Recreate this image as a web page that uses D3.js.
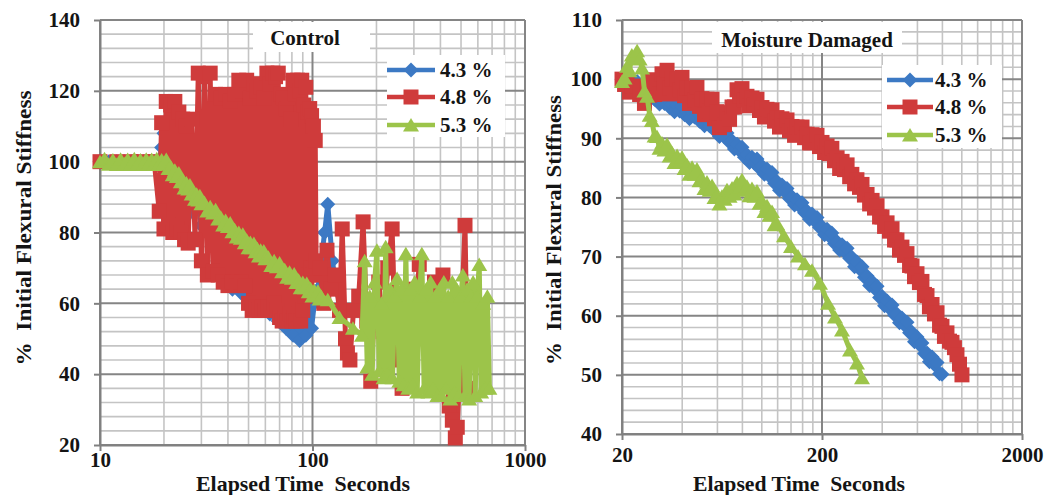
<!DOCTYPE html>
<html>
<head>
<meta charset="utf-8">
<script src="https://cdn.jsdelivr.net/npm/d3@7"></script>
<style>
  body { margin: 0; background: #ffffff; }
  svg text { font-family: "Liberation Serif", "Times New Roman", serif; font-weight: bold; fill: #141414; }
</style>
</head>
<body>
<div id="chart"></div>
<script>
// Series names (legend)
var seriesNames = ["4.3 %", "4.8 %", "5.3 %"];

// Tick labels
var ctlXTicks = [10, 100, 1000];
var ctlYTicks = [20, 40, 60, 80, 100, 120, 140];
var mdXTicks = [20, 200, 2000];
var mdYTicks = [40, 50, 60, 70, 80, 90, 100, 110];

// ---- Control panel (elapsed time s, % initial flexural stiffness) ----
var ctlBlueTime = [10, 11, 12, 13, 14, 15, 16, 17, 18, 19, 19.5, 20, 21, 22, 23, 24, 25, 26, 27, 28,
  30, 32, 34, 36, 38, 40, 42, 44, 46, 48, 50, 52, 54, 56, 58, 60,
  63, 66, 69, 72, 75, 78, 81, 84, 87, 90, 93, 96, 99,
  102, 106, 110, 114, 118, 124, 130, 136];
var ctlBlueStiff = [100, 100, 100, 100, 100, 100, 100, 100, 100, 100, 104, 108, 96, 104, 92, 100, 88, 97, 86, 94,
  82, 90, 78, 86, 74, 80, 64, 78, 63, 74, 62, 72, 62, 70, 60, 68,
  57, 66, 55, 64, 53, 62, 51, 58, 49.5, 56, 51, 58, 53,
  60, 64, 72, 80, 88, 72, 64, 58];

var ctlRedTime = [10, 12, 14, 16, 18,
  19, 19.5, 20, 20.5, 21, 21.5, 22, 22.5, 23, 23.5, 24, 24.5, 25, 25.5, 26,
  27, 28, 29, 30, 31, 32, 33, 34, 35, 36, 37, 38, 39, 40, 41, 42, 43, 44, 45, 46, 47, 48, 49, 50,
  51, 52, 53, 54, 55, 56, 57, 58, 59, 60, 61, 62, 63, 64, 65, 66, 67, 68, 69, 70,
  71, 72, 73, 74, 75, 76, 77, 78, 79, 80, 81, 82, 83, 84, 85, 86, 87, 88, 89, 90,
  91, 92, 93, 94, 95, 96, 97, 98, 99, 100, 101, 102, 103, 104,
  108, 113, 117, 122, 128, 134, 138, 143, 146, 150, 156, 165, 173, 180, 188, 196, 205, 215, 226, 237,
  245, 255, 264, 275, 290, 305, 318, 330, 345, 360, 375, 390, 411, 425, 440, 455, 470, 480, 492, 505,
  522, 530, 540];
var ctlRedStiff = [100, 100, 100, 100, 100,
  86, 111, 81, 117, 82, 116, 80, 117, 81, 114, 80, 112, 78, 110, 77,
  112, 78, 125, 72, 124, 68, 125, 69, 119, 68, 118, 66, 119, 65, 117, 66, 119, 65, 123, 66, 120, 65, 123, 60,
  118, 58, 122, 59, 120, 58, 121, 59, 118, 58, 125, 59, 122, 58, 125, 60, 124, 58, 125, 56,
  119, 55, 118, 56, 115, 55, 118, 57, 112, 55, 123, 56, 119, 55, 123, 57, 120, 55, 123, 58,
  116, 62, 121, 66, 114, 68, 115, 70, 113, 68, 110, 70, 106, 72,
  70, 60, 75, 64, 68, 58, 81, 50, 46, 44, 58, 62, 83, 55, 38, 60, 66, 52, 70, 81,
  50, 44, 36, 56, 64, 58, 71, 52, 62, 48, 66, 55, 68, 44, 31, 27, 22, 25, 40, 60,
  82, 58, 36];

var ctlGreenTime = [10, 10.5, 11, 11.5, 12, 12.5, 13, 13.5, 14, 14.5, 15, 15.5, 16, 16.5, 17, 17.5, 18, 18.5, 19, 19.5, 20,
  20.5, 21, 21.5, 22, 22.5, 23, 23.5, 24, 24.5, 25, 25.5, 26, 26.5, 27, 27.5, 28, 28.5, 29, 29.5, 30,
  31, 32, 33, 34, 35, 36, 37, 38, 39, 40, 41, 42, 43, 44, 45, 46, 47, 48, 49, 50,
  51, 52, 53, 54, 55, 56, 57, 58, 59, 60,
  62, 64, 66, 68, 70, 72, 74, 76, 78, 80, 82, 84, 86, 88, 90, 92, 94, 96, 98, 100, 102, 104, 106, 108, 110,
  118, 134, 155,
  171, 176, 181, 186, 191, 196, 201, 206, 211, 216, 221, 226, 232, 238, 244, 250, 256, 262, 268, 275,
  282, 289, 296, 303, 311, 319, 327, 335, 343, 351, 360, 369, 378, 387, 396, 405, 415, 425, 435, 445,
  455, 466, 477, 488, 499, 510, 522, 534, 546, 558, 570, 583, 596, 609, 622, 636, 650, 665, 680];
var ctlGreenStiff = [100, 100.8, 99.3, 100.5, 99.2, 100.7, 99.4, 100.6, 99.2, 100.8, 99.3, 100.5, 99.2, 100.7, 99.4, 100.6, 99.2, 100.8, 99.3, 100.5, 99.6,
  100.6, 98.1, 98.6, 96.3, 97.6, 95.8, 96.8, 94.3, 94.8, 92.6, 94.0, 92.3, 93.4, 90.9, 91.5, 89.4, 90.8, 89.2, 90.4, 88.1,
  88.5, 86.1, 87.3, 85.5, 86.4, 83.8, 84.3, 82.1, 83.4, 81.7, 82.7, 80.2, 80.8, 78.7, 80.0, 78.4, 79.5, 77.1, 77.8, 75.7,
  77.2, 75.7, 76.9, 74.6, 75.4, 73.4, 75.0, 73.5, 74.8, 72.6,
  73.0, 70.7, 72.0, 70.3, 71.4, 68.9, 69.5, 67.4, 68.8, 67.1, 68.3, 65.9, 66.5, 64.4, 65.9, 64.4, 65.6, 63.3, 64.1, 62.1, 63.6, 62.2, 63.4, 61.2, 61.9,
  61, 56, 53,
  51, 72, 42, 62, 40, 66, 75, 41, 60, 39, 76, 40, 64, 39, 62, 67, 38, 64, 37, 74,
  36, 64, 37, 66, 35, 62, 74, 36, 64, 35, 66, 36, 62, 34, 64, 34, 66, 36, 62, 33,
  66, 35, 64, 34, 62, 68, 34, 64, 33, 62, 66, 34, 62, 71, 35, 60, 36, 62, 36];

// ---- Moisture damaged panel ----
var mdTime = [20, 20.6, 21.2, 21.8, 22.4, 23.1, 23.8, 24.5, 25.2, 25.9,
  26.7, 27.5, 28.2, 29.1, 29.9, 30.8, 31.7, 32.6, 33.6, 34.6,
  35.6, 36.6, 37.7, 38.8, 39.9, 41.1, 42.3, 43.5, 44.8, 46.1,
  47.4, 48.8, 50.2, 51.7, 53.2, 54.8, 56.4, 58.0, 59.7, 61.4,
  63.2, 65.1, 67.0, 69.0, 71.0, 73.0, 75.2, 77.4, 79.6, 81.9,
  84.3, 86.8, 89.3, 91.9, 94.6, 97.4, 100.2, 103.1, 106.2, 109.3,
  112.5, 115.8, 119.1, 122.6, 126.2, 129.9, 133.7, 137.6, 141.6, 145.8,
  150.0, 154.4, 158.9, 163.6, 168.3, 173.3, 178.3, 183.5, 188.8, 194.3,
  200, 206, 212, 218, 224, 231, 238, 245, 252, 259,
  267, 275, 282, 291, 299, 308, 317, 326, 336, 346,
  356, 366, 377, 388, 399, 411, 423, 435, 448, 461,
  474, 488, 502, 517, 532, 548, 564, 580, 597, 614,
  632, 651, 670, 689, 710, 730, 752, 774, 796, 819,
  843, 868, 893, 919, 946, 974, 1002];
var mdGreenTailTime = [129.1, 140.0, 151.7, 164.4, 178.3, 195.4, 214.3, 232.3, 251.8, 276.1, 299.2, 317.0];

var mdBlueStiff = [100.0, 99.3, 99.8, 98.6, 99.7, 98.8, 99.6, 98.0, 98.5, 97.3,
  98.3, 97.4, 98.1, 96.6, 97.0, 95.8, 96.8, 95.9, 96.7, 95.2,
  95.7, 94.5, 95.6, 94.6, 95.5, 94.0, 94.5, 93.3, 94.5, 93.6,
  94.4, 92.9, 93.4, 92.1, 93.1, 92.1, 92.8, 91.3, 91.6, 90.3,
  91.3, 90.2, 90.9, 89.3, 89.6, 88.2, 89.0, 87.9, 88.5, 86.8,
  87.2, 85.9, 86.8, 85.8, 86.5, 84.9, 85.3, 83.9, 84.8, 83.6,
  84.2, 82.4, 82.7, 81.2, 82.1, 81.0, 81.5, 79.8, 80.1, 78.7,
  79.6, 78.5, 79.1, 77.4, 77.7, 76.3, 77.2, 76.0, 76.6, 74.9,
  75.1, 73.7, 74.6, 73.4, 74.0, 72.2, 72.5, 71.1, 72.0, 70.8,
  71.4, 69.7, 69.9, 68.3, 69.1, 67.9, 68.3, 66.5, 66.7, 65.1,
  65.8, 64.6, 65.0, 63.1, 63.3, 61.7, 62.5, 61.2, 61.8, 60.1,
  60.3, 58.8, 59.6, 58.4, 58.9, 57.1, 57.2, 55.6, 56.4, 55.1,
  55.4, 53.6, 53.7, 52.2, 53.0, 51.7, 52.1, 50.2, 50.1];
var mdRedStiff = [100.0, 99.1, 99.3, 97.8, 98.8, 98.0, 98.8, 97.4, 98.0, 95.9,
  98.7, 97.3, 99.9, 97.4, 99.4, 97.5, 100.9, 99.2, 101.5, 98.5,
  100.0, 97.5, 100.1, 98.2, 100.3, 97.2, 98.5, 95.9, 98.5, 96.5,
  98.6, 95.4, 96.7, 94.0, 96.6, 94.6, 96.6, 93.3, 94.5, 91.8,
  94.3, 92.3, 94.3, 93.2, 95.3, 95.3, 98.2, 97.2, 98.4, 96.5,
  97.1, 95.5, 96.8, 95.6, 96.6, 94.7, 95.2, 93.6, 94.9, 93.7,
  94.8, 92.9, 93.5, 91.9, 93.3, 92.1, 93.1, 91.3, 92.0, 90.5,
  91.9, 90.8, 91.9, 90.1, 90.7, 89.2, 90.6, 89.4, 90.5, 88.6,
  89.3, 87.6, 88.7, 87.4, 88.3, 86.2, 86.7, 84.9, 86.1, 84.7,
  85.5, 83.5, 83.9, 82.3, 83.0, 81.7, 82.2, 80.4, 80.5, 78.9,
  79.5, 78.2, 78.6, 76.7, 76.7, 75.1, 75.7, 74.3, 74.7, 72.8,
  72.8, 71.1, 71.6, 70.2, 70.5, 68.5, 68.4, 66.6, 67.1, 65.6,
  65.8, 63.6, 63.4, 61.5, 61.9, 60.3, 60.5, 58.4, 58.2, 56.5,
  57.1, 55.7, 55.5, 54.6, 53.4, 51.8, 50.0];
var mdGreenStiff = [99.6, 100.2, 102.2, 101.4, 104.1, 103.6, 104.8, 103.4, 101.9, 98.0,
  97.1, 93.9, 93.0, 90.4, 90.3, 88.3, 89.2, 88.0, 89.0, 87.0,
  87.5, 85.9, 87.1, 85.9, 86.8, 84.9, 85.5, 83.9, 85.1, 83.9,
  84.8, 82.8, 83.2, 81.5, 82.6, 81.2, 82.0, 80.0, 80.5, 78.9,
  80.2, 79.7, 81.3, 80.2, 81.6, 80.6, 82.5, 81.7, 83.0, 81.2,
  81.9, 80.3, 81.5, 80.2, 81.1, 79.0, 79.4, 77.6, 78.6, 77.0,
  77.6, 75.4, 75.6,
  73.5, 71.7, 70.1, 68.8, 67.7, 65.5, 62.1, 59.8, 57.6, 54.2, 52.0, 49.5];
var mdGreenTime = mdTime.slice(0, 63).concat(mdGreenTailTime);

var colors = ["#3c79c4", "#cf3b3b", "#9cc44a"];
var shapes = ["diamond", "square", "triangle"];

function markerPath(shape) {
  if (shape === "diamond") return "M0,-7.5L7.5,0L0,7.5L-7.5,0Z";
  if (shape === "square") return "M-7.5,-7.5H7.5V7.5H-7.5Z";
  return "M0,-7L8,6.5L-8,6.5Z";
}

var svg = d3.select("#chart")
  .append("svg")
  .attr("width", 1045)
  .attr("height", 495);

function drawPanel(p) {
  var x = d3.scaleLog().domain(p.xDomain).range([p.left, p.right]);
  var y = d3.scaleLinear().domain(p.yDomain).range([p.bottom, p.top]);
  var g = svg.append("g");

  // minor gridlines
  g.selectAll(null).data(p.xMinor).enter().append("line")
    .attr("x1", d => x(d)).attr("x2", d => x(d))
    .attr("y1", p.top).attr("y2", p.bottom)
    .attr("stroke", "#c4c4c4").attr("stroke-width", 1.6);
  g.selectAll(null).data(p.yMinor).enter().append("line")
    .attr("x1", p.left).attr("x2", p.right)
    .attr("y1", d => y(d)).attr("y2", d => y(d))
    .attr("stroke", "#c4c4c4").attr("stroke-width", 1.6);

  // major gridlines
  g.selectAll(null).data(p.xTicks).enter().append("line")
    .attr("x1", d => x(d)).attr("x2", d => x(d))
    .attr("y1", p.top).attr("y2", p.bottom)
    .attr("stroke", "#858585").attr("stroke-width", 2);
  g.selectAll(null).data(p.yTicks).enter().append("line")
    .attr("x1", p.left).attr("x2", p.right)
    .attr("y1", d => y(d)).attr("y2", d => y(d))
    .attr("stroke", "#858585").attr("stroke-width", 2);

  // axes
  var yAxis = g.append("g")
    .attr("transform", `translate(${p.left},0)`)
    .call(d3.axisLeft(y).tickValues(p.yTicks).tickSize(6).tickSizeOuter(0).tickPadding(14));
  var xAxis = g.append("g")
    .attr("transform", `translate(0,${p.bottom})`)
    .call(d3.axisBottom(x).tickValues(p.xTicks).tickFormat(d3.format("d"))
      .tickSize(6).tickSizeOuter(0).tickPadding(p.xPad));
  [yAxis, xAxis].forEach(function (a) {
    a.select(".domain").attr("stroke", "#808080").attr("stroke-width", 2);
    a.selectAll(".tick line").attr("stroke", "#808080").attr("stroke-width", 2);
    a.selectAll(".tick text").attr("font-size", "21px")
      .style("font-family", '"Liberation Serif", serif').style("font-weight", "bold").attr("fill", "#141414");
  });

  // series: line first, then markers, one series at a time
  p.series.forEach(function (s, i) {
    var pts = s.stiff.map((v, j) => [s.time[j], v]);
    var line = d3.line().x(d => x(d[0])).y(d => y(d[1]));
    g.append("path")
      .datum(pts)
      .attr("d", line)
      .attr("fill", "none")
      .attr("stroke", colors[i])
      .attr("stroke-width", 5)
      .attr("stroke-linejoin", "round");
    g.selectAll(null).data(pts).enter().append("path")
      .attr("d", markerPath(shapes[i]))
      .attr("transform", d => `translate(${x(d[0])},${y(d[1])})`)
      .attr("fill", colors[i]);
  });

  // chart title box
  g.append("rect")
    .attr("x", p.titleBox[0]).attr("y", p.titleBox[1])
    .attr("width", p.titleBox[2]).attr("height", p.titleBox[3])
    .attr("fill", "#ffffff");
  g.append("text")
    .attr("x", p.titleX).attr("y", p.titleY)
    .attr("text-anchor", "middle")
    .attr("font-size", "21px")
    .text(p.title);

  // legend
  var lg = p.legend;
  g.append("rect")
    .attr("x", lg.x).attr("y", lg.y).attr("width", lg.w).attr("height", lg.h)
    .attr("fill", "#ffffff");
  seriesNames.forEach(function (name, i) {
    var ry = lg.rows[i];
    g.append("line")
      .attr("x1", lg.lineX[0]).attr("x2", lg.lineX[1])
      .attr("y1", ry).attr("y2", ry)
      .attr("stroke", colors[i]).attr("stroke-width", 4.5);
    g.append("path")
      .attr("d", markerPath(shapes[i]))
      .attr("transform", `translate(${(lg.lineX[0] + lg.lineX[1]) / 2},${ry})`)
      .attr("fill", colors[i]);
    g.append("text")
      .attr("x", lg.textX).attr("y", ry + 7)
      .attr("font-size", "21px")
      .text(name);
  });

  // axis titles
  g.append("text")
    .attr("transform", `translate(${p.yTitleX},${p.yTitleY}) rotate(-90)`)
    .attr("text-anchor", "middle")
    .attr("font-size", "21px")
    .attr("textLength", p.yTitleLen)
    .attr("lengthAdjust", "spacingAndGlyphs")
    .style("white-space", "pre")
    .text("%  Initial Flexural Stiffness");
  g.append("text")
    .attr("x", p.xTitleX).attr("y", 491)
    .attr("text-anchor", "middle")
    .attr("font-size", "21px")
    .attr("textLength", p.xTitleLen)
    .attr("lengthAdjust", "spacingAndGlyphs")
    .style("white-space", "pre")
    .text("Elapsed Time  Seconds");
}

// Left: Control
drawPanel({
  left: 100, right: 525, top: 20, bottom: 445,
  xDomain: [10, 1000], yDomain: [20, 140],
  xTicks: ctlXTicks, yTicks: ctlYTicks,
  xMinor: [20, 30, 40, 50, 60, 70, 80, 90, 200, 300, 400, 500, 600, 700, 800, 900],
  yMinor: d3.range(20, 141, 4).filter(d => d % 20 !== 0),
  xPad: 1,
  series: [
    { time: ctlBlueTime, stiff: ctlBlueStiff },
    { time: ctlRedTime, stiff: ctlRedStiff },
    { time: ctlGreenTime, stiff: ctlGreenStiff }
  ],
  title: "Control", titleX: 305, titleY: 45, titleBox: [253, 22, 117, 30],
  legend: { x: 387, y: 55, w: 118, h: 82, rows: [70, 97, 125], lineX: [387, 435], textX: 440 },
  yTitleX: 31, yTitleY: 228, yTitleLen: 275,
  xTitleX: 303, xTitleLen: 214
});

// Right: Moisture Damaged
drawPanel({
  left: 622, right: 1022, top: 20, bottom: 434,
  xDomain: [20, 2000], yDomain: [40, 110],
  xTicks: mdXTicks, yTicks: mdYTicks,
  xMinor: [40, 60, 80, 100, 120, 140, 160, 180, 400, 600, 800, 1000, 1200, 1400, 1600, 1800],
  yMinor: d3.range(40, 111, 2).filter(d => d % 10 !== 0),
  xPad: 7,
  series: [
    { time: mdTime, stiff: mdBlueStiff },
    { time: mdTime, stiff: mdRedStiff },
    { time: mdGreenTime, stiff: mdGreenStiff }
  ],
  title: "Moisture Damaged", titleX: 807, titleY: 47, titleBox: [712, 22, 190, 31],
  legend: { x: 882, y: 65, w: 120, h: 83, rows: [80, 107, 135], lineX: [887, 933], textX: 935 },
  yTitleX: 561, yTitleY: 230, yTitleLen: 270,
  xTitleX: 799, xTitleLen: 212
});
</script>
</body>
</html>
